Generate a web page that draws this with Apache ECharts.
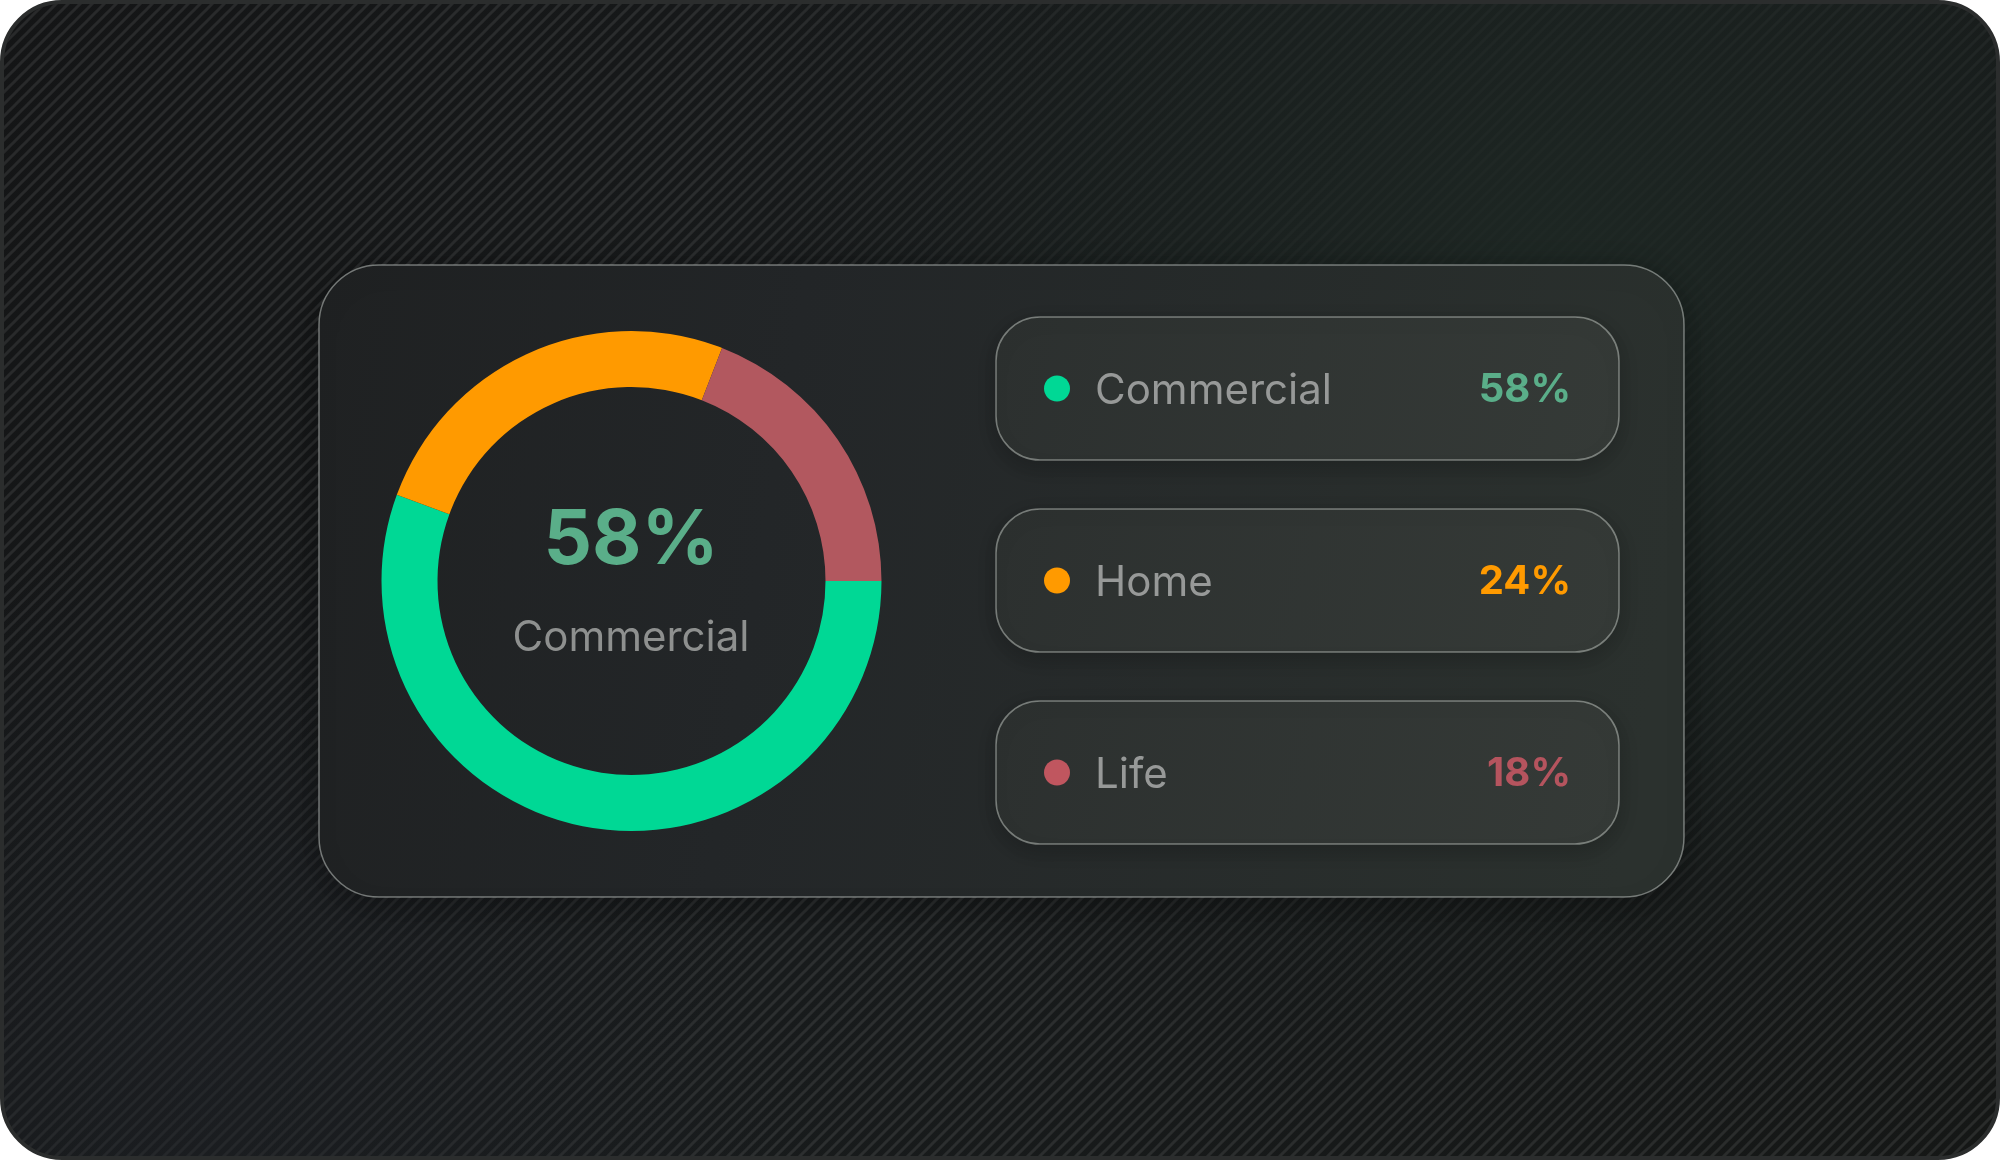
<!DOCTYPE html>
<html>
<head>
<meta charset="utf-8">
<script src="https://cdn.jsdelivr.net/npm/echarts@6/dist/echarts.min.js"></script>
<style>
html,body{margin:0;padding:0;background:#ffffff;}
#chart{width:2000px;height:1160px;}
</style>
</head>
<body>
<div id="chart"></div>
<script>
// ---- data ----
const categories = ['Commercial', 'Home', 'Life'];
const arcShares = [55.6, 25.3, 19.1];          // ring proportions as drawn
const shareLabels = ['58%', '24%', '18%'];      // printed percentages
const centerIndex = 0;

// ---- styles ----
const ringColors = ['#00d895', '#ff9a00', '#b2585f'];
const dotColors = ['#00d895', '#ff9a00', '#c0565f'];
const valueColors = ['#5aae89', '#ff9a00', '#b5545e'];
const FONT = 'Inter, Roboto, "Noto Sans", sans-serif';

// stripe pattern
const pc = document.createElement('canvas');
pc.width = 12; pc.height = 12;
const g = pc.getContext('2d');
g.strokeStyle = 'rgba(255,255,255,0.085)';
g.lineWidth = 3;
for (const o of [-12, 0, 12]) {
  g.beginPath();
  g.moveTo(-2 + o, 14);
  g.lineTo(14 + o, -2);
  g.stroke();
}

const chart = echarts.init(document.getElementById('chart'), null, {renderer: 'canvas'});

const pillX = 996, pillW = 623, pillH = 143, pillTops = [317, 509, 701];
const elements = [];

// outer frame
elements.push({
  type: 'rect', z: 0,
  shape: {x: 2, y: 2, width: 1996, height: 1156, r: 60},
  style: {
    fill: new echarts.graphic.LinearGradient(0, 0, 1, 1, [
      {offset: 0, color: '#141516'},
      {offset: 0.5, color: '#181b1c'},
      {offset: 1, color: '#151716'}
    ]),
    stroke: '#2b2d2d', lineWidth: 4
  }
});
elements.push({
  type: 'rect', z: 0,
  shape: {x: 4, y: 4, width: 1992, height: 1152, r: 58},
  style: {fill: {image: pc, repeat: 'repeat'}}
});
// greenish glow upper right
elements.push({
  type: 'rect', z: 0,
  shape: {x: 4, y: 4, width: 1992, height: 1152, r: 58},
  style: {
    fill: new echarts.graphic.RadialGradient(0.78, 0.25, 0.75, [
      {offset: 0, color: 'rgba(30,40,36,0.95)'},
      {offset: 0.55, color: 'rgba(26,33,31,0.6)'},
      {offset: 1, color: 'rgba(22,24,25,0)'}
    ])
  }
});
// bottom-left bluish tint
elements.push({
  type: 'rect', z: 0,
  shape: {x: 4, y: 4, width: 1992, height: 1152, r: 58},
  style: {
    fill: new echarts.graphic.RadialGradient(0.1, 0.95, 0.5, [
      {offset: 0, color: 'rgba(30,33,38,0.55)'},
      {offset: 1, color: 'rgba(30,33,38,0)'}
    ])
  }
});

// main card
elements.push({
  type: 'rect', z: 1,
  shape: {x: 319, y: 265, width: 1365, height: 632, r: 60},
  style: {
    fill: new echarts.graphic.LinearGradient(0, 0, 1, 0.35, [
      {offset: 0, color: '#1f2122'},
      {offset: 0.35, color: '#232628'},
      {offset: 1, color: '#2b312e'}
    ]),
    stroke: 'rgba(190,195,192,0.55)', lineWidth: 1.5,
    shadowBlur: 40, shadowColor: 'rgba(0,0,0,0.3)', shadowOffsetY: 8
  }
});

// legend pills
categories.forEach(function (name, i) {
  const top = pillTops[i];
  const cy = top + pillH / 2;
  elements.push({
    type: 'rect', z: 2,
    shape: {x: pillX, y: top, width: pillW, height: pillH, r: 44},
    style: {
      fill: new echarts.graphic.LinearGradient(0, 0, 1, 1, [
        {offset: 0, color: '#2c302f'},
        {offset: 1, color: '#353a37'}
      ]),
      stroke: 'rgba(200,205,200,0.5)', lineWidth: 1.5,
      shadowBlur: 24, shadowColor: 'rgba(0,0,0,0.22)', shadowOffsetY: 6
    }
  });
  elements.push({
    type: 'circle', z: 3,
    shape: {cx: 1057, cy: cy, r: 13},
    style: {fill: dotColors[i]}
  });
  elements.push({
    type: 'text', z: 3, x: 1095, y: cy + 2.5,
    style: {
      text: name, font: '400 42px ' + FONT, fill: '#979998',
      textAlign: 'left', textVerticalAlign: 'middle', align: 'left', verticalAlign: 'middle'
    }
  });
  elements.push({
    type: 'text', z: 3, x: 1571, y: cy + 1.5,
    style: {
      text: shareLabels[i], font: '700 40px ' + FONT, fill: valueColors[i],
      textAlign: 'right', textVerticalAlign: 'middle', align: 'right', verticalAlign: 'middle'
    }
  });
});

// center texts
elements.push({
  type: 'text', z: 10, x: 631, y: 541,
  style: {
    text: shareLabels[centerIndex], font: '700 76px ' + FONT, fill: valueColors[centerIndex],
    textAlign: 'center', textVerticalAlign: 'middle', align: 'center', verticalAlign: 'middle'
  }
});
elements.push({
  type: 'text', z: 10, x: 631, y: 638,
  style: {
    text: categories[centerIndex], font: '400 42px ' + FONT, fill: '#8e908f',
    textAlign: 'center', textVerticalAlign: 'middle', align: 'center', verticalAlign: 'middle'
  }
});

chart.setOption({
  animation: false,
  graphic: {elements: elements},
  series: [{
    type: 'pie',
    z: 5,
    center: [631.5, 581],
    radius: [194, 250],
    startAngle: 0,
    clockwise: true,
    silent: true,
    label: {show: false},
    labelLine: {show: false},
    itemStyle: {borderWidth: 0},
    emphasis: {disabled: true},
    data: categories.map(function (n, i) {
      return {name: n, value: arcShares[i], itemStyle: {color: ringColors[i]}};
    })
  }]
});
</script>
</body>
</html>
